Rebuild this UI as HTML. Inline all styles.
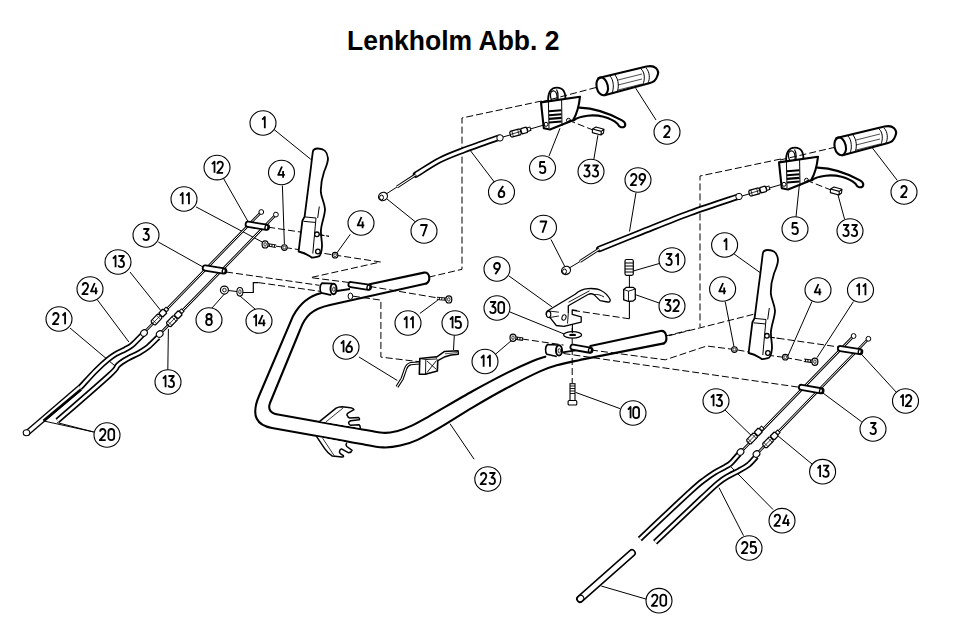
<!DOCTYPE html>
<html><head><meta charset="utf-8">
<style>
html,body{margin:0;padding:0;background:#fff;}
body{width:956px;height:641px;overflow:hidden;}
svg{display:block;}
.c{fill:#fff;stroke:#000;stroke-width:1.1;}
.g{fill:none;stroke:#000;stroke-width:1.8;stroke-linejoin:round;}
.n{font-family:"Liberation Sans",sans-serif;font-size:19.5px;text-anchor:middle;fill:#000;stroke:#000;stroke-width:0.35;}
.t{font-family:"Liberation Sans",sans-serif;font-size:27px;font-weight:bold;fill:#000;}
.l{fill:none;stroke:#000;stroke-width:1;}
.d{fill:none;stroke:#000;stroke-width:1;stroke-dasharray:7 3;}
.s{fill:none;stroke:#000;stroke-width:2.1;stroke-linecap:round;stroke-linejoin:round;}
.w{fill:#fff;stroke:#000;stroke-width:1.5;stroke-linejoin:round;}
</style></head><body>
<svg width="956" height="641" viewBox="0 0 956 641">
<text x="347" y="50" class="t" textLength="212.5" lengthAdjust="spacingAndGlyphs">Lenkholm Abb. 2</text>
<polyline points="541.6,101 462,118 462,269.3 429.4,277" class="d"/>
<polyline points="780.8,159 700,176 700,327" class="d"/>
<polyline points="669,335.7 770.5,310" class="d"/>
<path d="M321.5,292.9 C308,296 299,305 293.1,315.9 L259,396 C250.5,416 257,425.5 272,428 L345,441  C347.5,441.5 353.7,442.7 360.0,443.8 C366.3,444.9 376.3,447.1 383.0,447.4 C389.7,447.7 394.6,446.9 400.3,445.6 C406.1,444.4 410.8,443.0 417.5,439.9 C424.2,436.8 431.4,432.6 440.6,427.2 C449.8,421.8 462.0,413.8 472.8,407.4 C483.6,401.0 494.3,394.8 505.5,388.8 C516.7,382.8 531.3,375.3 540.0,371.4 C548.7,367.4 551.1,367.0 557.8,365.1 C564.5,363.2 576.3,360.8 580.0,359.9 L664,343.4" class="s" />
<path d="M426.4,283.5 L330,305 C312,309 305,316 300,330 L270,403 Q266.5,412.4 278,414.5 L345,426.5  C347.5,426.9 353.7,427.9 360.0,429.0 C366.3,430.1 376.9,432.4 383.0,432.8 C389.1,433.2 392.0,432.4 396.8,431.2 C401.6,430.0 406.4,428.1 411.8,425.6 C417.2,423.1 418.8,422.1 429.0,416.3 C439.2,410.5 460.1,398.1 472.8,391.0 C485.6,383.9 495.5,378.6 505.5,373.6 C515.5,368.6 526.2,363.8 532.8,361.0 C539.4,358.2 543.2,357.4 545.3,356.7" class="s" />
<path d="M369.5,284.2 L424,272.6 C430,271.5 431,281 426.4,283.5" class="s" />
<path d="M590.3,346 L660.5,331 C667,330 668,341 663.9,343.4" class="s" />
<g transform="translate(0 0)">
<path d="M598.5,77.9 L646.5,66.6 C655,64.5 660,70 657.3,76 C656,80 653,82.5 650,83 L604.6,95.3" class="s"/>
<ellipse cx="602.2" cy="86.4" rx="5.6" ry="9" transform="rotate(-13 602.2 86.4)" class="s"/>
<path d="M610,76 C614,80 614,89 612,93 M615,75 C619,80 619,88 617,92 M641,69 C645,72 645,80 643,84 M646,68 C650,72 650,79 648,83" class="l"/>
<path d="M618,80 L642,74 M618,85 L642,79 M618,90 L642,84" class="l" style="stroke-width:0.7"/>
</g>
<g transform="translate(238 60)">
<path d="M598.5,77.9 L646.5,66.6 C655,64.5 660,70 657.3,76 C656,80 653,82.5 650,83 L604.6,95.3" class="s"/>
<ellipse cx="602.2" cy="86.4" rx="5.6" ry="9" transform="rotate(-13 602.2 86.4)" class="s"/>
<path d="M610,76 C614,80 614,89 612,93 M615,75 C619,80 619,88 617,92 M641,69 C645,72 645,80 643,84 M646,68 C650,72 650,79 648,83" class="l"/>
<path d="M618,80 L642,74 M618,85 L642,79 M618,90 L642,84" class="l" style="stroke-width:0.7"/>
</g>
<g transform="translate(0 0)">
<path d="M548.3,102 C547.5,93 550.5,87.6 557,87.6 C563,87.6 565.8,92 565.4,100 L548.3,102 Z" style="fill:#fff;stroke:#000;stroke-width:1.8;stroke-linejoin:round"/>
<ellipse cx="553.8" cy="96.3" rx="3.3" ry="5.4" transform="rotate(-8 553.8 96.3)" style="fill:#fff;stroke:#000;stroke-width:1.3"/>
<path d="M556.5,89.5 C558,92 558.5,96 557.8,101" style="fill:none;stroke:#000;stroke-width:1.2"/>
<path d="M541,102.4 L580,96.7 C579,106 577,114 573,120.3 L550,129.5 L543.8,128.3 Z" class="s" style="fill:#fff"/>
<path d="M548.4,102 L549,128 M561.6,100 L562,126" class="l"/>
<path d="M549,111.3 L561.5,110.3 M549,115.2 L561.5,114.2 M549,118.9 L561.5,117.9 M549,122.5 L561.5,121.5" class="l" style="stroke-width:2.1"/>
<circle cx="546" cy="124.3" r="2" class="l"/><circle cx="568.5" cy="120.3" r="2" class="l"/>
<path d="M579.5,107.6 C590,108 605,111 622,120.3 C627,123 626,128 621,127.2 C618.5,126.5 618,124 617.5,123.7 C610,117 598,114.5 587.5,115.7 C580,116.5 576,118.5 573.7,120.3" class="s"/>
<path d="M592.5,129 L596,127 L604,129.3 L603.5,133 L601,135 L592.3,132.6 Z M592.5,129 L601.3,131.4 L604,129.3 M601.3,131.4 L601,135" style="fill:#fff;stroke:#000;stroke-width:1.1;stroke-linejoin:round"/>
</g>
<g transform="translate(238 60)">
<path d="M548.3,102 C547.5,93 550.5,87.6 557,87.6 C563,87.6 565.8,92 565.4,100 L548.3,102 Z" style="fill:#fff;stroke:#000;stroke-width:1.8;stroke-linejoin:round"/>
<ellipse cx="553.8" cy="96.3" rx="3.3" ry="5.4" transform="rotate(-8 553.8 96.3)" style="fill:#fff;stroke:#000;stroke-width:1.3"/>
<path d="M556.5,89.5 C558,92 558.5,96 557.8,101" style="fill:none;stroke:#000;stroke-width:1.2"/>
<path d="M541,102.4 L580,96.7 C579,106 577,114 573,120.3 L550,129.5 L543.8,128.3 Z" class="s" style="fill:#fff"/>
<path d="M548.4,102 L549,128 M561.6,100 L562,126" class="l"/>
<path d="M549,111.3 L561.5,110.3 M549,115.2 L561.5,114.2 M549,118.9 L561.5,117.9 M549,122.5 L561.5,121.5" class="l" style="stroke-width:2.1"/>
<circle cx="546" cy="124.3" r="2" class="l"/><circle cx="568.5" cy="120.3" r="2" class="l"/>
<path d="M579.5,107.6 C590,108 605,111 622,120.3 C627,123 626,128 621,127.2 C618.5,126.5 618,124 617.5,123.7 C610,117 598,114.5 587.5,115.7 C580,116.5 576,118.5 573.7,120.3" class="s"/>
<path d="M592.5,129 L596,127 L604,129.3 L603.5,133 L601,135 L592.3,132.6 Z M592.5,129 L601.3,131.4 L604,129.3 M601.3,131.4 L601,135" style="fill:#fff;stroke:#000;stroke-width:1.1;stroke-linejoin:round"/>
</g>
<polyline points="541,102 596,87.5" class="d"/>
<polyline points="780,160 834,147.5" class="d"/>
<polyline points="568.5,120.3 593,130" class="d"/>
<polyline points="806.5,180.3 831,190" class="d"/>
<path d="M416.0,174.6 C420.0,172.2 432.0,164.1 440.0,160.0 C448.0,155.9 454.3,153.7 464.0,150.0 C473.7,146.3 492.3,139.9 498.0,137.9" class="s" style="stroke-width:6.4"/>
<path d="M416.0,174.6 C420.0,172.2 432.0,164.1 440.0,160.0 C448.0,155.9 454.3,153.7 464.0,150.0 C473.7,146.3 492.3,139.9 498.0,137.9" class="s" style="stroke:#fff;stroke-width:3.0"/>
<circle cx="500" cy="137.9" r="3.2" class="l" style="fill:#fff"/>
<line x1="503" y1="137" x2="545" y2="124.7" class="l"/>
<path d="M397,187 L416,174.6" class="l" style="stroke-width:3"/>
<path d="M397,187 L416,174.6" class="l" style="stroke:#fff;stroke-width:1.1"/>
<path d="M383,196 L397,187" class="l" style="stroke-width:1"/>
<ellipse cx="383" cy="196.5" rx="4.6" ry="4" transform="rotate(-30 383 196.5)" class="l" style="fill:#fff;stroke-width:1.2"/><ellipse cx="381.5" cy="197.5" rx="2" ry="2.4" class="l" style="stroke-width:1"/>
<path d="M599.3,249.0 C606.1,246.3 624.9,238.7 640.0,232.7 C655.1,226.7 673.7,219.0 690.0,213.0 C706.3,207.0 729.9,199.4 737.9,196.7" class="s" style="stroke-width:6.4"/>
<path d="M599.3,249.0 C606.1,246.3 624.9,238.7 640.0,232.7 C655.1,226.7 673.7,219.0 690.0,213.0 C706.3,207.0 729.9,199.4 737.9,196.7" class="s" style="stroke:#fff;stroke-width:3.0"/>
<circle cx="739" cy="196.5" r="3.2" class="l" style="fill:#fff"/>
<line x1="742" y1="196" x2="781" y2="184.6" class="l"/>
<path d="M580,261.5 L599.3,249" class="l" style="stroke-width:3"/>
<path d="M580,261.5 L599.3,249" class="l" style="stroke:#fff;stroke-width:1.1"/>
<path d="M566,270 L580,261.5" class="l" style="stroke-width:1"/>
<ellipse cx="566" cy="270.4" rx="4.6" ry="4" transform="rotate(-30 566 270.4)" class="l" style="fill:#fff;stroke-width:1.2"/><ellipse cx="564.5" cy="271.4" rx="2" ry="2.4" class="l" style="stroke-width:1"/>
<line x1="130" y1="272" x2="160.9" y2="310.7" class="l" style="stroke-width:1"/>
<line x1="97.5" y1="300" x2="128.9" y2="342" class="l" style="stroke-width:1"/>
<line x1="70" y1="328" x2="115" y2="365.9" class="l" style="stroke-width:1"/>
<line x1="167.8" y1="370.3" x2="168.4" y2="328.9" class="l" style="stroke-width:1"/>
<line x1="93.8" y1="432" x2="43.9" y2="421" class="l" style="stroke-width:1"/>
<line x1="93.8" y1="432" x2="57.1" y2="422.6" class="l" style="stroke-width:1"/>
<line x1="158.3" y1="242" x2="203" y2="267" class="l" style="stroke-width:1"/>
<line x1="196" y1="206.9" x2="262.2" y2="242" class="l" style="stroke-width:1"/>
<line x1="223.6" y1="178.6" x2="248" y2="221.5" class="l" style="stroke-width:1"/>
<line x1="212" y1="308" x2="224.4" y2="294" class="l" style="stroke-width:1"/>
<line x1="255" y1="309" x2="240" y2="296" class="l" style="stroke-width:1"/>
<line x1="415.2" y1="221.7" x2="387" y2="199" class="l" style="stroke-width:1"/>
<line x1="494.3" y1="182" x2="470.7" y2="151" class="l" style="stroke-width:1"/>
<line x1="549" y1="156" x2="560" y2="128.3" class="l" style="stroke-width:1"/>
<line x1="593.9" y1="159" x2="597.9" y2="135.2" class="l" style="stroke-width:1"/>
<line x1="656" y1="120" x2="635.7" y2="88.2" class="l" style="stroke-width:1"/>
<line x1="636" y1="192.6" x2="629.5" y2="231.5" class="l" style="stroke-width:1"/>
<line x1="509" y1="276" x2="551.9" y2="306.8" class="l" style="stroke-width:1"/>
<line x1="551" y1="239.5" x2="564.6" y2="266.1" class="l" style="stroke-width:1"/>
<line x1="510" y1="312" x2="564.6" y2="334.2" class="l" style="stroke-width:1"/>
<line x1="660" y1="263.3" x2="633.3" y2="271" class="l" style="stroke-width:1"/>
<line x1="660" y1="303.3" x2="636.1" y2="294.9" class="l" style="stroke-width:1"/>
<line x1="494.2" y1="355.3" x2="511.8" y2="340.2" class="l" style="stroke-width:1"/>
<line x1="575.6" y1="392.4" x2="620" y2="408.6" class="l" style="stroke-width:1"/>
<line x1="474.1" y1="459.2" x2="450" y2="423.7" class="l" style="stroke-width:1"/>
<line x1="359" y1="357" x2="397.3" y2="380.5" class="l" style="stroke-width:1"/>
<line x1="454.3" y1="335.2" x2="453.5" y2="350.1" class="l" style="stroke-width:1"/>
<line x1="419.9" y1="313.4" x2="437.9" y2="300.1" class="l" style="stroke-width:1"/>
<line x1="734" y1="253.9" x2="760.4" y2="272.8" class="l" style="stroke-width:1"/>
<line x1="725.2" y1="301.6" x2="734" y2="346.8" class="l" style="stroke-width:1"/>
<line x1="811.9" y1="301.6" x2="788" y2="355.7" class="l" style="stroke-width:1"/>
<line x1="853.4" y1="301.6" x2="817" y2="357.7" class="l" style="stroke-width:1"/>
<line x1="861.2" y1="354" x2="896.9" y2="392.9" class="l" style="stroke-width:1"/>
<line x1="822.8" y1="392.9" x2="861.7" y2="421.8" class="l" style="stroke-width:1"/>
<line x1="777.6" y1="435.6" x2="814" y2="465.7" class="l" style="stroke-width:1"/>
<line x1="725" y1="410" x2="752.2" y2="436.4" class="l" style="stroke-width:1"/>
<line x1="731.2" y1="467.1" x2="773" y2="509.5" class="l" style="stroke-width:1"/>
<line x1="719" y1="487.7" x2="743.5" y2="535.7" class="l" style="stroke-width:1"/>
<line x1="601.2" y1="586" x2="646.1" y2="599.1" class="l" style="stroke-width:1"/>
<line x1="799.3" y1="185.4" x2="796" y2="216.8" class="l" style="stroke-width:1"/>
<line x1="837.8" y1="194.2" x2="844.6" y2="219.3" class="l" style="stroke-width:1"/>
<line x1="872.2" y1="147.7" x2="897.3" y2="180.4" class="l" style="stroke-width:1"/>
<line x1="274" y1="129.5" x2="310.8" y2="159.3" class="l" style="stroke-width:1"/>
<line x1="282.4" y1="185.6" x2="284.4" y2="244.4" class="l" style="stroke-width:1"/>
<line x1="350.3" y1="234.3" x2="337.1" y2="252.6" class="l" style="stroke-width:1"/>
<polyline points="268.2,227.2 329,236.3" class="d"/>
<polyline points="275,246 380.5,262 310.6,277.6 350,282.6" class="d"/>
<polyline points="226.1,272 319.3,285.3" class="d"/>
<polyline points="258.3,282.6 320,291.3" class="d"/>
<polyline points="243,292.5 253.3,292.5 253.3,282.6 258.3,282.6" class="l" style="stroke-width:1.2"/>
<polyline points="228,290.5 237,291.5" class="l"/>
<polyline points="369.5,286.4 437,297.8" class="d"/>
<polyline points="353,296.2 380.9,300.1 380.9,357.1 419.9,361.8" class="d"/>
<polyline points="573,310.4 629.4,318.8" class="d"/>
<polyline points="629.4,318.8 629.4,301" class="l" style="stroke-width:1.1"/>
<polyline points="629.4,275.3 629.4,287.9" class="l"/>
<polyline points="572.2,318 572.2,332 M572,338 572,383" class="d"/>
<polyline points="572.2,338 572.2,383" class="d"/>
<polyline points="522,339 563.5,345" class="d"/>
<polyline points="591,350 665.3,359.8 706.7,346 734.4,349.5" class="d"/>
<polyline points="785,357.5 804.6,361" class="d"/>
<polyline points="737.5,350 768,355.2 785,357.5" class="d"/>
<polyline points="755.7,315.2 770.5,311" class="l" style="stroke-width:0.8"/>
<polyline points="563.5,353.5 801.1,387.5" class="d"/>
<polyline points="767.7,336.8 840.2,347.2" class="d"/>
<polyline points="665.6,336 690,330" class="d"/>
<g transform="translate(0 0)">
<path d="M312.8,152.2 C313,149 315,148.5 317.9,148.5 C323,148.5 327,150 328,158.3 C328,163 326,167 324,172 C322,178 320.5,186 320.9,192.7 C321.5,198 324.5,203 325,209 C325,216 321,224 320.9,231.3 C320.9,238 322.5,243 321.9,247.5 C321.5,252 320,256.6 317.9,256.6 C314,257.6 311.8,257.6 311.8,257.6 C309,256 306,253 298.6,251.5 L302.4,220.7 L304.6,216.6 L308.7,184.6 C310.5,172 311.5,162 312.8,152.2 Z" class="s" style="fill:#fff;stroke-width:1.8"/>
<path d="M304.6,216.9 L316,218 M303.5,221.3 L315,222.4 M316,218 L312.8,253.5 M319.3,206.5 L317.7,218" class="l" style="stroke-width:1"/>
<circle cx="316.9" cy="234.3" r="2.3" class="l" style="stroke-width:1.3"/><circle cx="317.9" cy="251.5" r="2.3" class="l" style="stroke-width:1.3"/>
</g>
<g transform="translate(450 101.5)">
<path d="M312.8,152.2 C313,149 315,148.5 317.9,148.5 C323,148.5 327,150 328,158.3 C328,163 326,167 324,172 C322,178 320.5,186 320.9,192.7 C321.5,198 324.5,203 325,209 C325,216 321,224 320.9,231.3 C320.9,238 322.5,243 321.9,247.5 C321.5,252 320,256.6 317.9,256.6 C314,257.6 311.8,257.6 311.8,257.6 C309,256 306,253 298.6,251.5 L302.4,220.7 L304.6,216.6 L308.7,184.6 C310.5,172 311.5,162 312.8,152.2 Z" class="s" style="fill:#fff;stroke-width:1.8"/>
<path d="M304.6,216.9 L316,218 M303.5,221.3 L315,222.4 M316,218 L312.8,253.5 M319.3,206.5 L317.7,218" class="l" style="stroke-width:1"/>
<circle cx="316.9" cy="234.3" r="2.3" class="l" style="stroke-width:1.3"/><circle cx="317.9" cy="251.5" r="2.3" class="l" style="stroke-width:1.3"/>
</g>
<polyline points="319,234.6 329,236.3" class="d" style="stroke-dasharray:5 2"/>
<polyline points="769.5,337.1 780,338.6" class="d" style="stroke-dasharray:5 2"/>
<line x1="261.3" y1="212" x2="144.7" y2="331.9" style="stroke:#000;stroke-width:2.6"/>
<line x1="261.3" y1="212" x2="144.7" y2="331.9" style="stroke:#fff;stroke-width:1.0"/>
<line x1="275.9" y1="214.6" x2="160" y2="333.75" style="stroke:#000;stroke-width:2.6"/>
<line x1="275.9" y1="214.6" x2="160" y2="333.75" style="stroke:#fff;stroke-width:1.0"/>
<circle cx="261.3" cy="212" r="2.4" style="fill:#fff;stroke:#000;stroke-width:1"/>
<circle cx="275.9" cy="214.6" r="2.4" style="fill:#fff;stroke:#000;stroke-width:1"/>
<path d="M143.2,334.0 C141.4,335.8 135.2,342.4 132.2,345.0 C129.2,347.6 127.9,347.8 125.2,349.3 C122.5,350.8 118.7,352.3 115.8,354.0 C112.9,355.7 111.3,356.8 108.0,359.5 C104.7,362.2 100.7,365.8 96.0,370.5 C91.3,375.2 82.7,384.8 80.0,387.6" style="fill:none;stroke:#000;stroke-width:6.0;stroke-linecap:butt;stroke-linejoin:round"/>
<path d="M143.2,334.0 C141.4,335.8 135.2,342.4 132.2,345.0 C129.2,347.6 127.9,347.8 125.2,349.3 C122.5,350.8 118.7,352.3 115.8,354.0 C112.9,355.7 111.3,356.8 108.0,359.5 C104.7,362.2 100.7,365.8 96.0,370.5 C91.3,375.2 82.7,384.8 80.0,387.6" style="fill:none;stroke:#fff;stroke-width:2.6;stroke-linecap:butt;stroke-linejoin:round"/>
<path d="M158.2,337.2 C156.5,338.8 151.3,344.3 148.0,347.0 C144.7,349.7 141.5,351.4 138.2,353.3 C134.9,355.2 131.3,356.4 128.0,358.4 C124.7,360.3 121.3,362.2 118.2,365.0 C115.1,367.8 119.7,365.7 109.6,375.0 C99.5,384.3 66.2,413.1 57.5,420.7" style="fill:none;stroke:#000;stroke-width:6.0;stroke-linecap:butt;stroke-linejoin:round"/>
<path d="M158.2,337.2 C156.5,338.8 151.3,344.3 148.0,347.0 C144.7,349.7 141.5,351.4 138.2,353.3 C134.9,355.2 131.3,356.4 128.0,358.4 C124.7,360.3 121.3,362.2 118.2,365.0 C115.1,367.8 119.7,365.7 109.6,375.0 C99.5,384.3 66.2,413.1 57.5,420.7" style="fill:none;stroke:#fff;stroke-width:2.6;stroke-linecap:butt;stroke-linejoin:round"/>
<ellipse cx="144" cy="333" rx="3.5" ry="3" transform="rotate(-40 144 333)" style="fill:#fff;stroke:#000;stroke-width:1.1"/>
<ellipse cx="159.7" cy="334" rx="3.5" ry="3" transform="rotate(-40 159.7 334)" style="fill:#fff;stroke:#000;stroke-width:1.1"/>
<g transform="translate(156.5 319.5) rotate(-45.8)"><path d="M-5.5,-1.8 L-4.5,-3 L4.5,-3 L5.5,-1.8 L5.5,1.8 L4.5,3 L-4.5,3 L-5.5,1.8 Z" style="fill:#fff;stroke:#000;stroke-width:1.2"/><path d="M-3,-3 L-3,3 M3,-3 L3,3 M-5.5,0 L5.5,0" style="stroke:#000;stroke-width:0.7"/><path d="M6.5,-2.8 L11.5,-2.8 C12.5,-1.5 12.5,1.5 11.5,2.8 L6.5,2.8 C5.7,1.5 5.7,-1.5 6.5,-2.8 Z" style="fill:#fff;stroke:#000;stroke-width:1.3"/><rect x="12.5" y="-1.8" width="3" height="3.6" style="fill:#fff;stroke:#000;stroke-width:1"/></g>
<g transform="translate(171.9 321.2) rotate(-45.8)"><path d="M-5.5,-1.8 L-4.5,-3 L4.5,-3 L5.5,-1.8 L5.5,1.8 L4.5,3 L-4.5,3 L-5.5,1.8 Z" style="fill:#fff;stroke:#000;stroke-width:1.2"/><path d="M-3,-3 L-3,3 M3,-3 L3,3 M-5.5,0 L5.5,0" style="stroke:#000;stroke-width:0.7"/><path d="M6.5,-2.8 L11.5,-2.8 C12.5,-1.5 12.5,1.5 11.5,2.8 L6.5,2.8 C5.7,1.5 5.7,-1.5 6.5,-2.8 Z" style="fill:#fff;stroke:#000;stroke-width:1.3"/><rect x="12.5" y="-1.8" width="3" height="3.6" style="fill:#fff;stroke:#000;stroke-width:1"/></g>
<path d="M80,387.6 L27,433" style="fill:none;stroke:#000;stroke-width:6.2;stroke-linecap:butt;stroke-linejoin:round"/>
<path d="M80,387.6 L27,433" style="fill:none;stroke:#fff;stroke-width:3.4;stroke-linecap:butt;stroke-linejoin:round"/>
<line x1="81" y1="389.5" x2="43.5" y2="420.8" style="stroke:#000;stroke-width:2.6"/>
<ellipse cx="26.5" cy="432.8" rx="3.3" ry="3" style="fill:#fff;stroke:#000;stroke-width:1.1"/>
<line x1="248.2" y1="224.3" x2="266.5" y2="227.3" style="stroke:#000;stroke-width:7;stroke-linecap:round"/>
<line x1="248.2" y1="224.3" x2="266.5" y2="227.3" style="stroke:#fff;stroke-width:3.4;stroke-linecap:round"/>
<ellipse cx="266.5" cy="227.3" rx="1.5" ry="2.4" transform="rotate(10 266.5 227.3)" style="fill:none;stroke:#000;stroke-width:1.4"/>
<line x1="205.3" y1="268" x2="223.8" y2="271" style="stroke:#000;stroke-width:7;stroke-linecap:round"/>
<line x1="205.3" y1="268" x2="223.8" y2="271" style="stroke:#fff;stroke-width:3.4;stroke-linecap:round"/>
<ellipse cx="223.8" cy="271" rx="1.5" ry="2.4" transform="rotate(10 223.8 271)" style="fill:none;stroke:#000;stroke-width:1.4"/>
<line x1="853.6" y1="336" x2="740.2" y2="452.7" style="stroke:#000;stroke-width:2.6"/>
<line x1="853.6" y1="336" x2="740.2" y2="452.7" style="stroke:#fff;stroke-width:1.0"/>
<line x1="868.4" y1="338.8" x2="756.2" y2="454.5" style="stroke:#000;stroke-width:2.6"/>
<line x1="868.4" y1="338.8" x2="756.2" y2="454.5" style="stroke:#fff;stroke-width:1.0"/>
<circle cx="853.6" cy="336" r="2.4" style="fill:#fff;stroke:#000;stroke-width:1"/>
<circle cx="868.4" cy="338.8" r="2.4" style="fill:#fff;stroke:#000;stroke-width:1"/>
<path d="M739.0,454.0 C737.7,455.5 733.3,460.8 731.0,463.0 C728.7,465.2 727.7,465.4 725.0,467.0 C722.3,468.6 718.1,470.4 714.8,472.5 C711.5,474.6 709.0,476.2 705.0,479.3 C701.0,482.4 701.9,481.1 691.0,491.0 C680.1,500.9 648.3,531.0 639.8,539.0" style="fill:none;stroke:#000;stroke-width:6.0;stroke-linecap:butt;stroke-linejoin:round"/>
<path d="M739.0,454.0 C737.7,455.5 733.3,460.8 731.0,463.0 C728.7,465.2 727.7,465.4 725.0,467.0 C722.3,468.6 718.1,470.4 714.8,472.5 C711.5,474.6 709.0,476.2 705.0,479.3 C701.0,482.4 701.9,481.1 691.0,491.0 C680.1,500.9 648.3,531.0 639.8,539.0" style="fill:none;stroke:#fff;stroke-width:2.6;stroke-linecap:butt;stroke-linejoin:round"/>
<path d="M756.4,456.4 C755.1,457.8 751.4,462.4 748.5,464.8 C745.6,467.2 742.3,468.8 739.0,470.6 C735.7,472.4 732.2,473.8 728.8,475.8 C725.4,477.8 723.1,479.0 718.5,482.8 C713.9,486.6 711.6,488.9 701.0,498.8 C690.4,508.7 662.8,535.0 655.1,542.2" style="fill:none;stroke:#000;stroke-width:6.0;stroke-linecap:butt;stroke-linejoin:round"/>
<path d="M756.4,456.4 C755.1,457.8 751.4,462.4 748.5,464.8 C745.6,467.2 742.3,468.8 739.0,470.6 C735.7,472.4 732.2,473.8 728.8,475.8 C725.4,477.8 723.1,479.0 718.5,482.8 C713.9,486.6 711.6,488.9 701.0,498.8 C690.4,508.7 662.8,535.0 655.1,542.2" style="fill:none;stroke:#fff;stroke-width:2.6;stroke-linecap:butt;stroke-linejoin:round"/>
<ellipse cx="740.5" cy="452" rx="3.5" ry="3" transform="rotate(-40 740.5 452)" style="fill:#fff;stroke:#000;stroke-width:1.1"/>
<ellipse cx="756.5" cy="454" rx="3.5" ry="3" transform="rotate(-40 756.5 454)" style="fill:#fff;stroke:#000;stroke-width:1.1"/>
<g transform="translate(752 438.5) rotate(-45.8)"><path d="M-5.5,-1.8 L-4.5,-3 L4.5,-3 L5.5,-1.8 L5.5,1.8 L4.5,3 L-4.5,3 L-5.5,1.8 Z" style="fill:#fff;stroke:#000;stroke-width:1.2"/><path d="M-3,-3 L-3,3 M3,-3 L3,3 M-5.5,0 L5.5,0" style="stroke:#000;stroke-width:0.7"/><path d="M6.5,-2.8 L11.5,-2.8 C12.5,-1.5 12.5,1.5 11.5,2.8 L6.5,2.8 C5.7,1.5 5.7,-1.5 6.5,-2.8 Z" style="fill:#fff;stroke:#000;stroke-width:1.3"/><rect x="12.5" y="-1.8" width="3" height="3.6" style="fill:#fff;stroke:#000;stroke-width:1"/></g>
<g transform="translate(768 442.4) rotate(-45.8)"><path d="M-5.5,-1.8 L-4.5,-3 L4.5,-3 L5.5,-1.8 L5.5,1.8 L4.5,3 L-4.5,3 L-5.5,1.8 Z" style="fill:#fff;stroke:#000;stroke-width:1.2"/><path d="M-3,-3 L-3,3 M3,-3 L3,3 M-5.5,0 L5.5,0" style="stroke:#000;stroke-width:0.7"/><path d="M6.5,-2.8 L11.5,-2.8 C12.5,-1.5 12.5,1.5 11.5,2.8 L6.5,2.8 C5.7,1.5 5.7,-1.5 6.5,-2.8 Z" style="fill:#fff;stroke:#000;stroke-width:1.3"/><rect x="12.5" y="-1.8" width="3" height="3.6" style="fill:#fff;stroke:#000;stroke-width:1"/></g>
<line x1="840.5" y1="348.6" x2="859.8" y2="351.6" style="stroke:#000;stroke-width:7;stroke-linecap:round"/>
<line x1="840.5" y1="348.6" x2="859.8" y2="351.6" style="stroke:#fff;stroke-width:3.4;stroke-linecap:round"/>
<ellipse cx="859.8" cy="351.6" rx="1.5" ry="2.4" transform="rotate(10 859.8 351.6)" style="fill:none;stroke:#000;stroke-width:1.4"/>
<line x1="801.5" y1="387.4" x2="821" y2="390.8" style="stroke:#000;stroke-width:7;stroke-linecap:round"/>
<line x1="801.5" y1="387.4" x2="821" y2="390.8" style="stroke:#fff;stroke-width:3.4;stroke-linecap:round"/>
<ellipse cx="821" cy="390.8" rx="1.5" ry="2.4" transform="rotate(10 821 390.8)" style="fill:none;stroke:#000;stroke-width:1.4"/>
<path d="M580,599 L632,553" style="fill:none;stroke:#000;stroke-width:7.8;stroke-linecap:round;stroke-linejoin:round"/>
<path d="M580,599 L632,553" style="fill:none;stroke:#fff;stroke-width:4.8;stroke-linecap:round;stroke-linejoin:round"/>
<ellipse cx="580.5" cy="598.6" rx="3.4" ry="3.1" transform="rotate(-40 580.5 598.6)" style="fill:none;stroke:#000;stroke-width:1.1"/>
<circle cx="284.4" cy="247.5" r="2.8" style="fill:#fff;stroke:#000;stroke-width:1.15"/><circle cx="284.4" cy="247.5" r="1.4" style="fill:none;stroke:#000;stroke-width:0.7"/>
<circle cx="335.1" cy="255.2" r="2.8" style="fill:#fff;stroke:#000;stroke-width:1.15"/><circle cx="335.1" cy="255.2" r="1.4" style="fill:none;stroke:#000;stroke-width:0.7"/>
<circle cx="734.4" cy="349.5" r="2.8" style="fill:#fff;stroke:#000;stroke-width:1.15"/><circle cx="734.4" cy="349.5" r="1.4" style="fill:none;stroke:#000;stroke-width:0.7"/>
<circle cx="785.3" cy="357.2" r="2.8" style="fill:#fff;stroke:#000;stroke-width:1.15"/><circle cx="785.3" cy="357.2" r="1.4" style="fill:none;stroke:#000;stroke-width:0.7"/>
<line x1="265.1" y1="244.4" x2="276" y2="246.2" style="stroke:#000;stroke-width:3.4"/>
<line x1="265.1" y1="244.4" x2="276" y2="246.2" style="stroke:#fff;stroke-width:1.6;stroke-dasharray:1.5 1"/>
<ellipse cx="265.1" cy="244.4" rx="3" ry="3.6" style="fill:#fff;stroke:#000;stroke-width:1.2"/><ellipse cx="265.1" cy="244.4" rx="1.2" ry="1.8" style="fill:none;stroke:#000;stroke-width:0.8"/>
<line x1="814.9" y1="361.7" x2="804" y2="360.2" style="stroke:#000;stroke-width:3.4"/>
<line x1="814.9" y1="361.7" x2="804" y2="360.2" style="stroke:#fff;stroke-width:1.6;stroke-dasharray:1.5 1"/>
<ellipse cx="814.9" cy="361.7" rx="3" ry="3.6" style="fill:#fff;stroke:#000;stroke-width:1.2"/><ellipse cx="814.9" cy="361.7" rx="1.2" ry="1.8" style="fill:none;stroke:#000;stroke-width:0.8"/>
<line x1="448.8" y1="299.4" x2="437" y2="298.4" style="stroke:#000;stroke-width:3.4"/>
<line x1="448.8" y1="299.4" x2="437" y2="298.4" style="stroke:#fff;stroke-width:1.6;stroke-dasharray:1.5 1"/>
<ellipse cx="448.8" cy="299.4" rx="3" ry="3.6" style="fill:#fff;stroke:#000;stroke-width:1.2"/><ellipse cx="448.8" cy="299.4" rx="1.2" ry="1.8" style="fill:none;stroke:#000;stroke-width:0.8"/>
<line x1="513" y1="337.7" x2="523" y2="339.2" style="stroke:#000;stroke-width:3.4"/>
<line x1="513" y1="337.7" x2="523" y2="339.2" style="stroke:#fff;stroke-width:1.6;stroke-dasharray:1.5 1"/>
<ellipse cx="513" cy="337.7" rx="3" ry="3.6" style="fill:#fff;stroke:#000;stroke-width:1.2"/><ellipse cx="513" cy="337.7" rx="1.2" ry="1.8" style="fill:none;stroke:#000;stroke-width:0.8"/>
<circle cx="224.4" cy="290.1" r="4" style="fill:#fff;stroke:#000;stroke-width:1.2"/><circle cx="224.4" cy="290.1" r="1.8" style="fill:none;stroke:#000;stroke-width:0.9"/>
<ellipse cx="239.9" cy="291.8" rx="3" ry="4.3" style="fill:#fff;stroke:#000;stroke-width:1.1"/><ellipse cx="239.9" cy="291.8" rx="1.2" ry="2" style="fill:none;stroke:#000;stroke-width:0.8"/>
<ellipse cx="350.4" cy="296.2" rx="2.3" ry="3.2" style="fill:#fff;stroke:#000;stroke-width:1"/>
<g transform="translate(0 0.0)"><path d="M332.4,283.6 L322,283.1 C319.5,285 319.5,291 321.5,292.9 L331.3,295.1" style="fill:#fff;stroke:#000;stroke-width:1.6"/><ellipse cx="333.5" cy="289" rx="3" ry="5.2" style="fill:#fff;stroke:#000;stroke-width:2"/><ellipse cx="333.8" cy="289.3" rx="1.2" ry="2.2" style="fill:none;stroke:#000;stroke-width:0.8"/><line x1="337" y1="291" x2="350" y2="289" style="stroke:#000;stroke-width:1.8"/></g>
<g transform="translate(225.5 61.39999999999998)"><path d="M332.4,283.6 L322,283.1 C319.5,285 319.5,291 321.5,292.9 L331.3,295.1" style="fill:#fff;stroke:#000;stroke-width:1.6"/><ellipse cx="333.5" cy="289" rx="3" ry="5.2" style="fill:#fff;stroke:#000;stroke-width:2"/><ellipse cx="333.8" cy="289.3" rx="1.2" ry="2.2" style="fill:none;stroke:#000;stroke-width:0.8"/><line x1="337" y1="291" x2="350" y2="289" style="stroke:#000;stroke-width:1.8"/></g>
<line x1="351" y1="284.6" x2="368.5" y2="287.3" style="stroke:#000;stroke-width:7;stroke-linecap:round"/>
<line x1="351" y1="284.6" x2="368.5" y2="287.3" style="stroke:#fff;stroke-width:3.4;stroke-linecap:round"/>
<ellipse cx="368.5" cy="287.3" rx="1.5" ry="2.4" transform="rotate(10 368.5 287.3)" style="fill:none;stroke:#000;stroke-width:1.4"/>
<line x1="573" y1="347.2" x2="590" y2="350.2" style="stroke:#000;stroke-width:7;stroke-linecap:round"/>
<line x1="573" y1="347.2" x2="590" y2="350.2" style="stroke:#fff;stroke-width:3.4;stroke-linecap:round"/>
<ellipse cx="590" cy="350.2" rx="1.5" ry="2.4" transform="rotate(10 590 350.2)" style="fill:none;stroke:#000;stroke-width:1.4"/>
<ellipse cx="572.6" cy="334.9" rx="9" ry="3.2" style="fill:#fff;stroke:#000;stroke-width:1.3"/><ellipse cx="572.6" cy="334.9" rx="3.5" ry="1.2" style="fill:#000"/>
<rect x="625" y="259.5" width="8.3" height="15.8" rx="1.5" style="fill:#fff;stroke:#000;stroke-width:1.2"/>
<path d="M625,263 L633.3,263 M625,266 L633.3,266 M625,269 L633.3,269 M625,272 L633.3,272" style="stroke:#000;stroke-width:1.2"/>
<path d="M623.7,289.5 L626.5,287.3 L633,287.3 L635.3,289 L635.3,299.3 L633,301 L628.5,301.3 L623.7,299.8 Z" style="fill:#fff;stroke:#000;stroke-width:1.3;stroke-linejoin:round"/>
<path d="M623.7,289.5 L628.5,291.2 L635.3,289 M628.5,291.2 L628.5,301.3" style="fill:none;stroke:#000;stroke-width:0.9"/>
<rect x="570" y="383.7" width="5" height="17.5" style="fill:#fff;stroke:#000;stroke-width:1.1"/>
<path d="M570,386 L575,386 M570,388.5 L575,388.5 M570,391 L575,391 M570,393.5 L575,393.5" style="stroke:#000;stroke-width:0.9"/>
<rect x="568.1" y="400.5" width="8.7" height="4.5" rx="1" style="fill:#fff;stroke:#000;stroke-width:1.1"/>
<path d="M546.9,311.3 C545.5,313 546,316 548,317 L550.3,317.8 L556.3,325.5 L564,326.4 L581.2,322.1 L581.2,316.9 L572.2,314.3 L572.2,310 L577,310.6" style="fill:#fff;stroke:#000;stroke-width:1.3;stroke-linejoin:round"/>
<path d="M546.9,311.3 L575.2,294.2 C578,291.5 583,289 588.1,288.6 C593,288.3 598,288.8 601,290.5 C605,292.5 608.5,296.5 610,299.3 C610.8,301 609.5,302.5 607.5,302 L600.1,300.6 L594,294.6 C592,293.5 590,293.5 588,294.5 L568.3,305.8 L568.3,313.5" style="fill:#fff;stroke:#000;stroke-width:1.3;stroke-linejoin:round"/>
<path d="M568.5,302.2 L589.5,290.8 M594,294.6 C597,294 601,295 604,297 M549,311 L558.9,312.2 M549.5,317.5 L558.9,316 M568.3,313.5 L567.5,323.5" style="fill:none;stroke:#000;stroke-width:0.9"/>
<ellipse cx="548.6" cy="314.3" rx="2.2" ry="3.2" style="fill:#fff;stroke:#000;stroke-width:1.1"/>
<ellipse cx="564" cy="317.5" rx="2" ry="2.8" transform="rotate(20 564 317.5)" style="fill:none;stroke:#000;stroke-width:1"/>
<line x1="572.4" y1="324.6" x2="572.4" y2="333" style="stroke:#000;stroke-width:1.1"/>
<path d="M422.8,362.7 L410.8,363.6 C408,364.5 406.5,366 405.5,369 L402.2,378.6 L397,386.8" style="fill:none;stroke:#000;stroke-width:3.3;stroke-linecap:butt;stroke-linejoin:round"/>
<path d="M422.8,362.7 L410.8,363.6 C408,364.5 406.5,366 405.5,369 L402.2,378.6 L397,386.8" style="fill:none;stroke:#fff;stroke-width:1.1;stroke-linecap:butt;stroke-linejoin:round"/>
<path d="M419.8,358.5 L436.5,356.7 L437.8,358.9 L437.4,370.9 L425.3,374.3 L419.3,374.3 Z" style="fill:#fff;stroke:#000;stroke-width:1.6;stroke-linejoin:round"/>
<path d="M425.8,359.5 L425.5,374 M419.8,358.5 L425.8,359.5 L437.8,358.9 M427,361 L436.5,369.5 M436.5,360.5 L427,372.5" style="fill:none;stroke:#000;stroke-width:0.9"/>
<path d="M436.5,357.2 L444.2,351.6 L458,350.7 L458.4,354.2 L451.1,355 L445.1,356.7 L437.8,360.6" style="fill:#fff;stroke:#000;stroke-width:1.5;stroke-linejoin:round"/>
<path d="M445,353.8 L457,352.6" style="stroke:#000;stroke-width:0.7"/>
<path d="M319.7,421.3 L336.1,408.2 Q338.5,406.8 341.9,406.8 L350.7,407.7 Q353.5,408.2 354,409.7 L348.7,412.6 Q346,414.5 347.3,415.5 Q348,417.8 349.7,417.9 L358.4,417.4 Q360,418.5 359.4,419.8 L350.7,420.8 Q348,422 348.7,423.2 Q349,425 350.7,425.2 L358.9,424.7 Q360.5,426 360.3,428.1" style="fill:#fff;stroke:#000;stroke-width:1.5;stroke-linejoin:round"/>
<path d="M316.8,436.8 L324.5,448.4 Q328,453.5 332.3,456.1 L341.9,457.1 Q344,457 343.4,455.7 L341,454.2 Q339,453 339.5,451.3 Q340,449 341.5,448.9 L348.7,452.8 Q351.5,452.5 352.1,450.3 L346.8,446.5 Q345.5,445 346.3,443.6 L346.8,442.6" style="fill:#fff;stroke:#000;stroke-width:1.5;stroke-linejoin:round"/>
<path d="M326,421.8 L342.9,408.2 M322.6,438.2 L334.2,455.7" style="stroke:#000;stroke-width:0.8"/>
<g transform="translate(515.5 133) rotate(-16)"><path d="M-5.5,-1.8 L-4.5,-3 L4.5,-3 L5.5,-1.8 L5.5,1.8 L4.5,3 L-4.5,3 L-5.5,1.8 Z" style="fill:#fff;stroke:#000;stroke-width:1.2"/><path d="M-3,-3 L-3,3 M3,-3 L3,3 M-5.5,0 L5.5,0" style="stroke:#000;stroke-width:0.7"/><path d="M6.5,-2.8 L11.5,-2.8 C12.5,-1.5 12.5,1.5 11.5,2.8 L6.5,2.8 C5.7,1.5 5.7,-1.5 6.5,-2.8 Z" style="fill:#fff;stroke:#000;stroke-width:1.3"/><rect x="12.5" y="-1.8" width="3" height="3.6" style="fill:#fff;stroke:#000;stroke-width:1"/></g>
<g transform="translate(754.5 192) rotate(-16)"><path d="M-5.5,-1.8 L-4.5,-3 L4.5,-3 L5.5,-1.8 L5.5,1.8 L4.5,3 L-4.5,3 L-5.5,1.8 Z" style="fill:#fff;stroke:#000;stroke-width:1.2"/><path d="M-3,-3 L-3,3 M3,-3 L3,3 M-5.5,0 L5.5,0" style="stroke:#000;stroke-width:0.7"/><path d="M6.5,-2.8 L11.5,-2.8 C12.5,-1.5 12.5,1.5 11.5,2.8 L6.5,2.8 C5.7,1.5 5.7,-1.5 6.5,-2.8 Z" style="fill:#fff;stroke:#000;stroke-width:1.3"/><rect x="12.5" y="-1.8" width="3" height="3.6" style="fill:#fff;stroke:#000;stroke-width:1"/></g>
<ellipse cx="263" cy="123" rx="13" ry="12.3" class="c"/>
<path d="M1.0,2.6 L3.6,0 L3.6,11.2" transform="translate(261.20 117.00)" class="g"/>
<ellipse cx="217" cy="167.6" rx="13" ry="12.3" class="c"/>
<path d="M1.0,2.6 L3.6,0 L3.6,11.2" transform="translate(210.90 161.60)" class="g"/>
<path d="M0.2,2.7 C0.4,1 1.5,0 2.9,0 C4.5,0 5.7,1.1 5.7,2.9 C5.7,4.3 5,5.3 4,6.6 L0,11.2 L5.9,11.2" transform="translate(217.20 161.60)" class="g"/>
<ellipse cx="281.5" cy="172.5" rx="13" ry="12.3" class="c"/>
<path d="M3.8,0 L0,8.4 L6.6,8.4 M4.9,4.4 L4.9,11.2" transform="translate(278.20 166.50)" class="g"/>
<ellipse cx="184" cy="199" rx="13" ry="12.3" class="c"/>
<path d="M1.0,2.6 L3.6,0 L3.6,11.2" transform="translate(179.05 193.00)" class="g"/>
<path d="M1.0,2.6 L3.6,0 L3.6,11.2" transform="translate(185.35 193.00)" class="g"/>
<ellipse cx="361" cy="223" rx="13" ry="12.3" class="c"/>
<path d="M3.8,0 L0,8.4 L6.6,8.4 M4.9,4.4 L4.9,11.2" transform="translate(357.70 217.00)" class="g"/>
<ellipse cx="424" cy="231" rx="13" ry="12.3" class="c"/>
<path d="M0,0.9 L0,0 L5.8,0 L1.8,11.2" transform="translate(421.10 225.00)" class="g"/>
<ellipse cx="146" cy="235" rx="13" ry="12.3" class="c"/>
<path d="M0.2,0 L5.6,0 L2.4,4.6 C4.3,4.6 5.8,5.8 5.8,8 C5.8,10.1 4.6,11.2 2.9,11.2 C1.5,11.2 0.4,10.5 0,9.3" transform="translate(143.10 229.00)" class="g"/>
<ellipse cx="118" cy="262" rx="13" ry="12.3" class="c"/>
<path d="M1.0,2.6 L3.6,0 L3.6,11.2" transform="translate(111.95 256.00)" class="g"/>
<path d="M0.2,0 L5.6,0 L2.4,4.6 C4.3,4.6 5.8,5.8 5.8,8 C5.8,10.1 4.6,11.2 2.9,11.2 C1.5,11.2 0.4,10.5 0,9.3" transform="translate(118.25 256.00)" class="g"/>
<ellipse cx="90" cy="289" rx="13" ry="12.3" class="c"/>
<path d="M0.2,2.7 C0.4,1 1.5,0 2.9,0 C4.5,0 5.7,1.1 5.7,2.9 C5.7,4.3 5,5.3 4,6.6 L0,11.2 L5.9,11.2" transform="translate(82.40 283.00)" class="g"/>
<path d="M3.8,0 L0,8.4 L6.6,8.4 M4.9,4.4 L4.9,11.2" transform="translate(91.00 283.00)" class="g"/>
<ellipse cx="59" cy="319" rx="13" ry="12.3" class="c"/>
<path d="M0.2,2.7 C0.4,1 1.5,0 2.9,0 C4.5,0 5.7,1.1 5.7,2.9 C5.7,4.3 5,5.3 4,6.6 L0,11.2 L5.9,11.2" transform="translate(52.90 313.00)" class="g"/>
<path d="M1.0,2.6 L3.6,0 L3.6,11.2" transform="translate(61.50 313.00)" class="g"/>
<ellipse cx="209" cy="320" rx="13" ry="12.3" class="c"/>
<path d="M2.9,5 C1.3,5 0.3,4 0.3,2.5 C0.3,1 1.3,0 2.9,0 C4.5,0 5.5,1 5.5,2.5 C5.5,4 4.5,5 2.9,5 C1.1,5 0,6.3 0,8.1 C0,10 1.2,11.2 2.9,11.2 C4.6,11.2 5.8,10 5.8,8.1 C5.8,6.3 4.7,5 2.9,5 Z" transform="translate(206.10 314.00)" class="g"/>
<ellipse cx="259" cy="321" rx="13" ry="12.3" class="c"/>
<path d="M1.0,2.6 L3.6,0 L3.6,11.2" transform="translate(252.55 315.00)" class="g"/>
<path d="M3.8,0 L0,8.4 L6.6,8.4 M4.9,4.4 L4.9,11.2" transform="translate(258.85 315.00)" class="g"/>
<ellipse cx="408" cy="323" rx="13" ry="12.3" class="c"/>
<path d="M1.0,2.6 L3.6,0 L3.6,11.2" transform="translate(403.05 317.00)" class="g"/>
<path d="M1.0,2.6 L3.6,0 L3.6,11.2" transform="translate(409.35 317.00)" class="g"/>
<ellipse cx="455" cy="323" rx="13" ry="12.3" class="c"/>
<path d="M1.0,2.6 L3.6,0 L3.6,11.2" transform="translate(448.95 317.00)" class="g"/>
<path d="M5.4,0 L0.6,0 L0.3,4.8 C1,4.4 2,4.2 2.9,4.2 C4.8,4.2 5.8,5.6 5.8,7.7 C5.8,9.9 4.6,11.2 2.9,11.2 C1.5,11.2 0.5,10.5 0,9.4" transform="translate(455.25 317.00)" class="g"/>
<ellipse cx="346" cy="347" rx="13" ry="12.3" class="c"/>
<path d="M1.0,2.6 L3.6,0 L3.6,11.2" transform="translate(339.95 341.00)" class="g"/>
<path d="M4.6,0 L1,5.3 C0.3,6.3 0,7 0,8.2 C0,10 1.2,11.2 2.9,11.2 C4.6,11.2 5.8,10 5.8,8.1 C5.8,6.2 4.6,5 2.9,5 C2.2,5 1.6,5.2 1,5.5" transform="translate(346.25 341.00)" class="g"/>
<ellipse cx="168" cy="382" rx="13" ry="12.3" class="c"/>
<path d="M1.0,2.6 L3.6,0 L3.6,11.2" transform="translate(161.95 376.00)" class="g"/>
<path d="M0.2,0 L5.6,0 L2.4,4.6 C4.3,4.6 5.8,5.8 5.8,8 C5.8,10.1 4.6,11.2 2.9,11.2 C1.5,11.2 0.4,10.5 0,9.3" transform="translate(168.25 376.00)" class="g"/>
<ellipse cx="107" cy="435" rx="13" ry="12.3" class="c"/>
<path d="M0.2,2.7 C0.4,1 1.5,0 2.9,0 C4.5,0 5.7,1.1 5.7,2.9 C5.7,4.3 5,5.3 4,6.6 L0,11.2 L5.9,11.2" transform="translate(99.80 429.00)" class="g"/>
<path d="M0,2.9 C0,1 1.2,0 2.9,0 C4.6,0 5.8,1 5.8,2.9 L5.8,8.3 C5.8,10.2 4.6,11.2 2.9,11.2 C1.2,11.2 0,10.2 0,8.3 Z" transform="translate(108.40 429.00)" class="g"/>
<ellipse cx="487.8" cy="479" rx="13" ry="12.3" class="c"/>
<path d="M0.2,2.7 C0.4,1 1.5,0 2.9,0 C4.5,0 5.7,1.1 5.7,2.9 C5.7,4.3 5,5.3 4,6.6 L0,11.2 L5.9,11.2" transform="translate(480.60 473.00)" class="g"/>
<path d="M0.2,0 L5.6,0 L2.4,4.6 C4.3,4.6 5.8,5.8 5.8,8 C5.8,10.1 4.6,11.2 2.9,11.2 C1.5,11.2 0.4,10.5 0,9.3" transform="translate(489.20 473.00)" class="g"/>
<ellipse cx="667" cy="132" rx="13" ry="12.3" class="c"/>
<path d="M0.2,2.7 C0.4,1 1.5,0 2.9,0 C4.5,0 5.7,1.1 5.7,2.9 C5.7,4.3 5,5.3 4,6.6 L0,11.2 L5.9,11.2" transform="translate(664.05 126.00)" class="g"/>
<ellipse cx="542.5" cy="168" rx="13" ry="12.3" class="c"/>
<path d="M5.4,0 L0.6,0 L0.3,4.8 C1,4.4 2,4.2 2.9,4.2 C4.8,4.2 5.8,5.6 5.8,7.7 C5.8,9.9 4.6,11.2 2.9,11.2 C1.5,11.2 0.5,10.5 0,9.4" transform="translate(539.60 162.00)" class="g"/>
<ellipse cx="591" cy="171.5" rx="13" ry="12.3" class="c"/>
<path d="M0.2,0 L5.6,0 L2.4,4.6 C4.3,4.6 5.8,5.8 5.8,8 C5.8,10.1 4.6,11.2 2.9,11.2 C1.5,11.2 0.4,10.5 0,9.3" transform="translate(583.85 165.50)" class="g"/>
<path d="M0.2,0 L5.6,0 L2.4,4.6 C4.3,4.6 5.8,5.8 5.8,8 C5.8,10.1 4.6,11.2 2.9,11.2 C1.5,11.2 0.4,10.5 0,9.3" transform="translate(592.35 165.50)" class="g"/>
<ellipse cx="501.5" cy="192" rx="13" ry="12.3" class="c"/>
<path d="M4.6,0 L1,5.3 C0.3,6.3 0,7 0,8.2 C0,10 1.2,11.2 2.9,11.2 C4.6,11.2 5.8,10 5.8,8.1 C5.8,6.2 4.6,5 2.9,5 C2.2,5 1.6,5.2 1,5.5" transform="translate(498.60 186.00)" class="g"/>
<ellipse cx="638" cy="180" rx="13" ry="12.3" class="c"/>
<path d="M0.2,2.7 C0.4,1 1.5,0 2.9,0 C4.5,0 5.7,1.1 5.7,2.9 C5.7,4.3 5,5.3 4,6.6 L0,11.2 L5.9,11.2" transform="translate(630.80 174.00)" class="g"/>
<path d="M1.2,11.2 L4.8,5.9 C5.5,4.9 5.8,4.2 5.8,3 C5.8,1.2 4.6,0 2.9,0 C1.2,0 0,1.2 0,3.1 C0,5 1.2,6.2 2.9,6.2 C3.6,6.2 4.2,6 4.8,5.7" transform="translate(639.40 174.00)" class="g"/>
<ellipse cx="543.5" cy="227.5" rx="13" ry="12.3" class="c"/>
<path d="M0,0.9 L0,0 L5.8,0 L1.8,11.2" transform="translate(540.60 221.50)" class="g"/>
<ellipse cx="497" cy="269" rx="13" ry="12.3" class="c"/>
<path d="M1.2,11.2 L4.8,5.9 C5.5,4.9 5.8,4.2 5.8,3 C5.8,1.2 4.6,0 2.9,0 C1.2,0 0,1.2 0,3.1 C0,5 1.2,6.2 2.9,6.2 C3.6,6.2 4.2,6 4.8,5.7" transform="translate(494.10 263.00)" class="g"/>
<ellipse cx="672" cy="260" rx="13" ry="12.3" class="c"/>
<path d="M0.2,0 L5.6,0 L2.4,4.6 C4.3,4.6 5.8,5.8 5.8,8 C5.8,10.1 4.6,11.2 2.9,11.2 C1.5,11.2 0.4,10.5 0,9.3" transform="translate(665.95 254.00)" class="g"/>
<path d="M1.0,2.6 L3.6,0 L3.6,11.2" transform="translate(674.45 254.00)" class="g"/>
<ellipse cx="497" cy="308" rx="13" ry="12.3" class="c"/>
<path d="M0.2,0 L5.6,0 L2.4,4.6 C4.3,4.6 5.8,5.8 5.8,8 C5.8,10.1 4.6,11.2 2.9,11.2 C1.5,11.2 0.4,10.5 0,9.3" transform="translate(489.85 302.00)" class="g"/>
<path d="M0,2.9 C0,1 1.2,0 2.9,0 C4.6,0 5.8,1 5.8,2.9 L5.8,8.3 C5.8,10.2 4.6,11.2 2.9,11.2 C1.2,11.2 0,10.2 0,8.3 Z" transform="translate(498.35 302.00)" class="g"/>
<ellipse cx="672" cy="306" rx="13" ry="12.3" class="c"/>
<path d="M0.2,0 L5.6,0 L2.4,4.6 C4.3,4.6 5.8,5.8 5.8,8 C5.8,10.1 4.6,11.2 2.9,11.2 C1.5,11.2 0.4,10.5 0,9.3" transform="translate(664.80 300.00)" class="g"/>
<path d="M0.2,2.7 C0.4,1 1.5,0 2.9,0 C4.5,0 5.7,1.1 5.7,2.9 C5.7,4.3 5,5.3 4,6.6 L0,11.2 L5.9,11.2" transform="translate(673.30 300.00)" class="g"/>
<ellipse cx="485" cy="361.5" rx="13" ry="12.3" class="c"/>
<path d="M1.0,2.6 L3.6,0 L3.6,11.2" transform="translate(480.05 355.50)" class="g"/>
<path d="M1.0,2.6 L3.6,0 L3.6,11.2" transform="translate(486.35 355.50)" class="g"/>
<ellipse cx="633" cy="413" rx="13" ry="12.3" class="c"/>
<path d="M1.0,2.6 L3.6,0 L3.6,11.2" transform="translate(626.95 407.00)" class="g"/>
<path d="M0,2.9 C0,1 1.2,0 2.9,0 C4.6,0 5.8,1 5.8,2.9 L5.8,8.3 C5.8,10.2 4.6,11.2 2.9,11.2 C1.2,11.2 0,10.2 0,8.3 Z" transform="translate(633.25 407.00)" class="g"/>
<ellipse cx="904" cy="192" rx="13" ry="12.3" class="c"/>
<path d="M0.2,2.7 C0.4,1 1.5,0 2.9,0 C4.5,0 5.7,1.1 5.7,2.9 C5.7,4.3 5,5.3 4,6.6 L0,11.2 L5.9,11.2" transform="translate(901.05 186.00)" class="g"/>
<ellipse cx="795" cy="229" rx="13" ry="12.3" class="c"/>
<path d="M5.4,0 L0.6,0 L0.3,4.8 C1,4.4 2,4.2 2.9,4.2 C4.8,4.2 5.8,5.6 5.8,7.7 C5.8,9.9 4.6,11.2 2.9,11.2 C1.5,11.2 0.5,10.5 0,9.4" transform="translate(792.10 223.00)" class="g"/>
<ellipse cx="850" cy="231" rx="13" ry="12.3" class="c"/>
<path d="M0.2,0 L5.6,0 L2.4,4.6 C4.3,4.6 5.8,5.8 5.8,8 C5.8,10.1 4.6,11.2 2.9,11.2 C1.5,11.2 0.4,10.5 0,9.3" transform="translate(842.85 225.00)" class="g"/>
<path d="M0.2,0 L5.6,0 L2.4,4.6 C4.3,4.6 5.8,5.8 5.8,8 C5.8,10.1 4.6,11.2 2.9,11.2 C1.5,11.2 0.4,10.5 0,9.3" transform="translate(851.35 225.00)" class="g"/>
<ellipse cx="724.6" cy="245" rx="13" ry="12.3" class="c"/>
<path d="M1.0,2.6 L3.6,0 L3.6,11.2" transform="translate(722.80 239.00)" class="g"/>
<ellipse cx="722.6" cy="289" rx="13" ry="12.3" class="c"/>
<path d="M3.8,0 L0,8.4 L6.6,8.4 M4.9,4.4 L4.9,11.2" transform="translate(719.30 283.00)" class="g"/>
<ellipse cx="818" cy="290" rx="13" ry="12.3" class="c"/>
<path d="M3.8,0 L0,8.4 L6.6,8.4 M4.9,4.4 L4.9,11.2" transform="translate(814.70 284.00)" class="g"/>
<ellipse cx="860.5" cy="290" rx="13" ry="12.3" class="c"/>
<path d="M1.0,2.6 L3.6,0 L3.6,11.2" transform="translate(855.55 284.00)" class="g"/>
<path d="M1.0,2.6 L3.6,0 L3.6,11.2" transform="translate(861.85 284.00)" class="g"/>
<ellipse cx="905.5" cy="401" rx="13" ry="12.3" class="c"/>
<path d="M1.0,2.6 L3.6,0 L3.6,11.2" transform="translate(899.40 395.00)" class="g"/>
<path d="M0.2,2.7 C0.4,1 1.5,0 2.9,0 C4.5,0 5.7,1.1 5.7,2.9 C5.7,4.3 5,5.3 4,6.6 L0,11.2 L5.9,11.2" transform="translate(905.70 395.00)" class="g"/>
<ellipse cx="873" cy="429" rx="13" ry="12.3" class="c"/>
<path d="M0.2,0 L5.6,0 L2.4,4.6 C4.3,4.6 5.8,5.8 5.8,8 C5.8,10.1 4.6,11.2 2.9,11.2 C1.5,11.2 0.4,10.5 0,9.3" transform="translate(870.10 423.00)" class="g"/>
<ellipse cx="716" cy="401" rx="13" ry="12.3" class="c"/>
<path d="M1.0,2.6 L3.6,0 L3.6,11.2" transform="translate(709.95 395.00)" class="g"/>
<path d="M0.2,0 L5.6,0 L2.4,4.6 C4.3,4.6 5.8,5.8 5.8,8 C5.8,10.1 4.6,11.2 2.9,11.2 C1.5,11.2 0.4,10.5 0,9.3" transform="translate(716.25 395.00)" class="g"/>
<ellipse cx="822.6" cy="471.7" rx="13" ry="12.3" class="c"/>
<path d="M1.0,2.6 L3.6,0 L3.6,11.2" transform="translate(816.55 465.70)" class="g"/>
<path d="M0.2,0 L5.6,0 L2.4,4.6 C4.3,4.6 5.8,5.8 5.8,8 C5.8,10.1 4.6,11.2 2.9,11.2 C1.5,11.2 0.4,10.5 0,9.3" transform="translate(822.85 465.70)" class="g"/>
<ellipse cx="782" cy="520.7" rx="13" ry="12.3" class="c"/>
<path d="M0.2,2.7 C0.4,1 1.5,0 2.9,0 C4.5,0 5.7,1.1 5.7,2.9 C5.7,4.3 5,5.3 4,6.6 L0,11.2 L5.9,11.2" transform="translate(774.40 514.70)" class="g"/>
<path d="M3.8,0 L0,8.4 L6.6,8.4 M4.9,4.4 L4.9,11.2" transform="translate(783.00 514.70)" class="g"/>
<ellipse cx="749" cy="548" rx="13" ry="12.3" class="c"/>
<path d="M0.2,2.7 C0.4,1 1.5,0 2.9,0 C4.5,0 5.7,1.1 5.7,2.9 C5.7,4.3 5,5.3 4,6.6 L0,11.2 L5.9,11.2" transform="translate(741.80 542.00)" class="g"/>
<path d="M5.4,0 L0.6,0 L0.3,4.8 C1,4.4 2,4.2 2.9,4.2 C4.8,4.2 5.8,5.6 5.8,7.7 C5.8,9.9 4.6,11.2 2.9,11.2 C1.5,11.2 0.5,10.5 0,9.4" transform="translate(750.40 542.00)" class="g"/>
<ellipse cx="659" cy="600.7" rx="13" ry="12.3" class="c"/>
<path d="M0.2,2.7 C0.4,1 1.5,0 2.9,0 C4.5,0 5.7,1.1 5.7,2.9 C5.7,4.3 5,5.3 4,6.6 L0,11.2 L5.9,11.2" transform="translate(651.80 594.70)" class="g"/>
<path d="M0,2.9 C0,1 1.2,0 2.9,0 C4.6,0 5.8,1 5.8,2.9 L5.8,8.3 C5.8,10.2 4.6,11.2 2.9,11.2 C1.2,11.2 0,10.2 0,8.3 Z" transform="translate(660.40 594.70)" class="g"/>
</svg>
</body></html>
